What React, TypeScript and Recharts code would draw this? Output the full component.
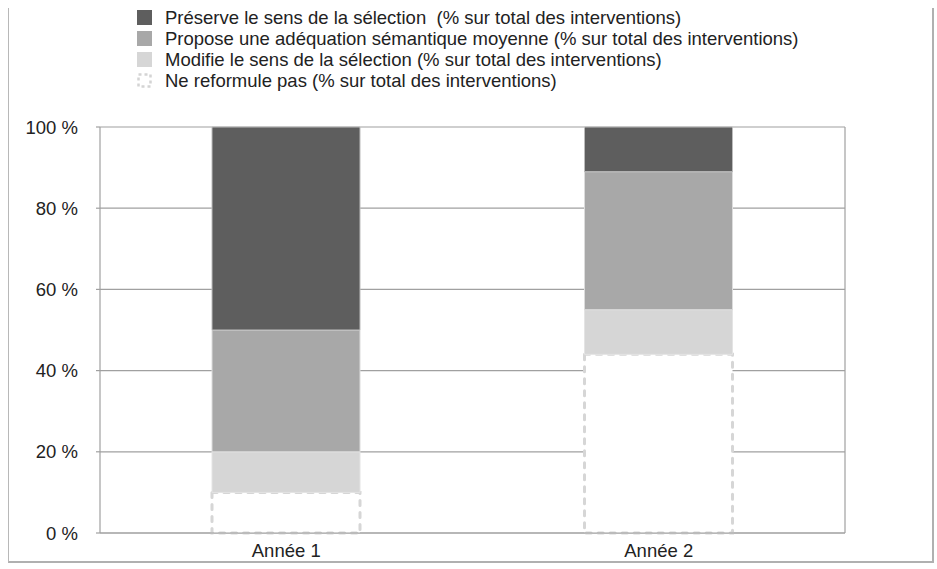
import { Bar, BarChart, CartesianGrid, XAxis, YAxis } from "recharts";

// Categories (x axis)
const YEARS = ["Année 1", "Année 2"];

// Series values, % of total interventions (stacked bottom to top)
const NE_REFORMULE = [10, 44];
const MODIFIE = [10, 11];
const PROPOSE = [30, 34];
const PRESERVE = [50, 11];

const Y_TICKS = [0, 20, 40, 60, 80, 100];

const SERIES = [
  { key: "preserve", name: "Préserve le sens de la sélection  (% sur total des interventions)", color: "#5e5e5e" },
  { key: "propose", name: "Propose une adéquation sémantique moyenne (% sur total des interventions)", color: "#a8a8a8" },
  { key: "modifie", name: "Modifie le sens de la sélection (% sur total des interventions)", color: "#d6d6d6" },
  { key: "neReformule", name: "Ne reformule pas (% sur total des interventions)", color: "#ffffff", dashed: true },
];

const chartData = YEARS.map((year, i) => ({
  year,
  neReformule: NE_REFORMULE[i],
  modifie: MODIFIE[i],
  propose: PROPOSE[i],
  preserve: PRESERVE[i],
}));

const FONT = "'Liberation Sans', Arial, Helvetica, sans-serif";
const TEXT = "#222";

function LegendBox() {
  return (
    <div
      style={{
        position: "absolute",
        left: 137,
        top: 7,
        fontFamily: FONT,
        fontSize: 18.5,
        color: TEXT,
        lineHeight: "21px",
      }}
    >
      {SERIES.map((s) => (
        <div key={s.key} style={{ display: "flex", alignItems: "center", whiteSpace: "pre" }}>
          <svg width={15} height={15} style={{ marginRight: 13 }}>
            {s.dashed ? (
              <rect
                x={1.5}
                y={1.5}
                width={12}
                height={12}
                fill="#fff"
                stroke="#d4d4d4"
                strokeWidth={2.5}
                strokeDasharray="3 3"
              />
            ) : (
              <rect x={0} y={0} width={15} height={15} fill={s.color} />
            )}
          </svg>
          <span>{s.name}</span>
        </div>
      ))}
    </div>
  );
}

export default function App() {
  return (
    <div
      style={{
        position: "absolute",
        left: 0,
        top: 0,
        width: 937,
        height: 569,
        background: "#fff",
      }}
    >
      {/* outer frame, open at the top */}
      <div
        style={{
          position: "absolute",
          left: 8,
          top: 8,
          width: 926,
          height: 555,
          borderLeft: "1.5px solid #b8b8b8",
          borderRight: "2px solid #b0b0b0",
          borderBottom: "2px solid #b0b0b0",
          boxSizing: "border-box",
        }}
      />
      <LegendBox />
      <BarChart
        width={937}
        height={569}
        data={chartData}
        margin={{ top: 127, right: 92, left: 0, bottom: 6 }}
        barSize={148}
        style={{ position: "absolute", left: 0, top: 0 }}
      >
        <CartesianGrid
          stroke="#a0a0a0"
          strokeWidth={1.2}
          verticalCoordinatesGenerator={({ offset }: any) => [offset.left + offset.width]}
        />
        <XAxis
          dataKey="year"
          height={30}
          tickLine={false}
          axisLine={{ stroke: "#a0a0a0", strokeWidth: 1.2 }}
          tick={{ fontFamily: FONT, fontSize: 18.5, fill: TEXT }}
          tickMargin={5}
        />
        <YAxis
          width={100}
          domain={[0, 100]}
          ticks={Y_TICKS}
          tickFormatter={(v) => `${v} %`}
          tickSize={4}
          tickLine={{ stroke: "#a0a0a0", strokeWidth: 1.2 }}
          axisLine={{ stroke: "#a0a0a0", strokeWidth: 1.2 }}
          tick={{ fontFamily: FONT, fontSize: 18.5, fill: TEXT }}
          tickMargin={18}
        />
        <Bar
          dataKey="neReformule"
          stackId="a"
          fill="#ffffff"
          stroke="#d6d6d6"
          strokeWidth={3}
          strokeDasharray="5 7"
          strokeLinecap="round"
          isAnimationActive={false}
        />
        <Bar dataKey="modifie" stackId="a" fill="#d6d6d6" stroke="#e4e4e4" strokeWidth={1} isAnimationActive={false} />
        <Bar dataKey="propose" stackId="a" fill="#a8a8a8" stroke="#dcdcdc" strokeWidth={1} isAnimationActive={false} />
        <Bar dataKey="preserve" stackId="a" fill="#5e5e5e" stroke="#bcbcbc" strokeWidth={1} isAnimationActive={false} />
      </BarChart>
    </div>
  );
}
